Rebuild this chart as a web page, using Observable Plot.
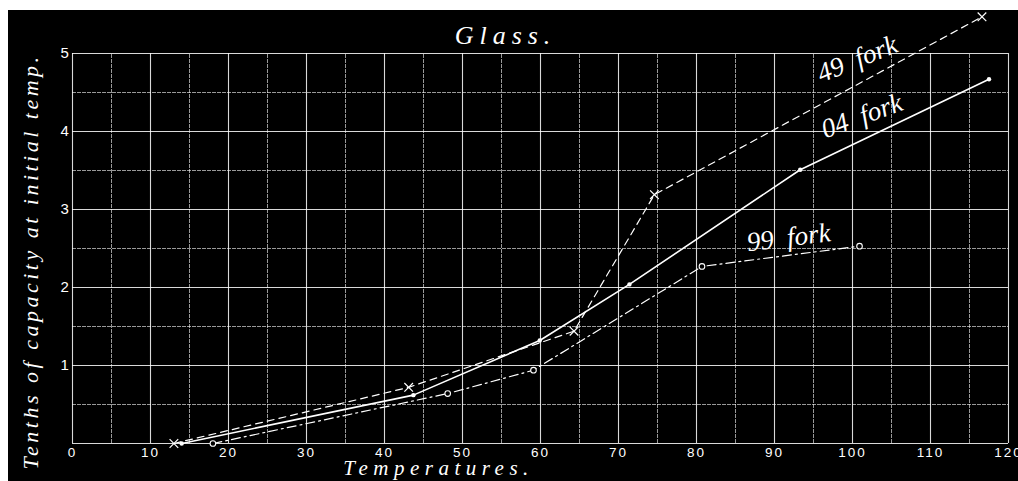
<!DOCTYPE html>
<html>
<head>
<meta charset="utf-8">
<script src="https://cdn.jsdelivr.net/npm/d3@7"></script>
<script src="https://cdn.jsdelivr.net/npm/@observablehq/plot@0.6"></script>
<style>
  html, body { margin: 0; padding: 0; background: #fff; }
  #chart { padding: 10px 0 0 8px; }
  #chart svg { display: block; background: #000; }
</style>
</head>
<body>
<div id="chart"></div>
<script>
// ---- data ----
const temps49 = [13, 43.1, 64.3, 74.6, 116.6];
const cap49   = [0, 0.72, 1.44, 3.19, 5.47];
const temps04 = [14, 43.7, 59.9, 71.4, 93.3, 117.5];
const cap04   = [0, 0.62, 1.32, 2.04, 3.51, 4.67];
const temps99 = [18, 48.1, 59.1, 80.7, 100.9];
const cap99   = [0, 0.64, 0.94, 2.27, 2.53];

const forkLabels = ["49  fork", "04  fork", "99  fork"];
const forkLabelX = [100.6, 101.2, 91.8];
const forkLabelY = [4.93, 4.2, 2.64];
const forkLabelAngle = [-22, -20, -7];

const xTickLabels = [0, 10, 20, 30, 40, 50, 60, 70, 80, 90, 100, 110, 120];
const xMinorGrid  = [5, 15, 25, 35, 45, 55, 65, 75, 85, 95, 105, 115];
const yTickLabels = [1, 2, 3, 4, 5];
const yMinorGrid  = [0.5, 1.5, 2.5, 3.5, 4.5];
const yMajorGrid  = [0, 1, 2, 3, 4, 5];

const title = "Glass.";
const xLabel = "Temperatures.";
const yLabel = "Tenths of capacity at initial temp.";

const toRows = (xs, ys) => xs.map((x, i) => ({x, y: ys[i]}));
const s49 = toRows(temps49, cap49);
const s04 = toRows(temps04, cap04);
const s99 = toRows(temps99, cap99);
const labels = forkLabels.map((t, i) => ({t, x: forkLabelX[i], y: forkLabelY[i], a: forkLabelAngle[i]}));

const serif = "Liberation Serif, DejaVu Serif, serif";
const sans = "Liberation Sans, DejaVu Sans, sans-serif";

const chart = Plot.plot({
  width: 1010,
  height: 471,
  marginLeft: 64,
  marginRight: 10,
  marginTop: 43,
  marginBottom: 38,
  x: {domain: [0, 120], axis: null},
  y: {domain: [0, 5], axis: null},
  style: {background: "#000", color: "#fff"},
  marks: [
    Plot.ruleX(xMinorGrid, {x: d => d, y1: 0, y2: 5, stroke: "#fff", strokeOpacity: 0.6, strokeWidth: 1, strokeDasharray: "4,1"}),
    Plot.ruleY(yMinorGrid, {y: d => d, x1: 0, x2: 120, stroke: "#fff", strokeOpacity: 0.6, strokeWidth: 1, strokeDasharray: "4,1"}),
    Plot.ruleX(xTickLabels, {x: d => d, y1: 0, y2: 5, stroke: "#fff", strokeOpacity: 0.85, strokeWidth: 1.1}),
    Plot.ruleY(yMajorGrid, {y: d => d, x1: 0, x2: 120, stroke: "#fff", strokeOpacity: 0.85, strokeWidth: 1.1}),
    // tick labels
    Plot.text(xTickLabels, {x: d => d, frameAnchor: "bottom", lineAnchor: "middle", dy: 9, text: d => String(d), fill: "#fff", fontSize: 13.5, fontFamily: sans, fontWeight: 300}),
    Plot.text(yTickLabels, {y: d => d, frameAnchor: "left", dx: -12, text: d => String(d), fill: "#fff", fontSize: 15, fontFamily: sans}),
    // series
    Plot.line(s49, {x: "x", y: "y", stroke: "#fff", strokeWidth: 1.2, strokeDasharray: "7,5"}),
    Plot.line(s04, {x: "x", y: "y", stroke: "#fff", strokeWidth: 1.6}),
    Plot.line(s99, {x: "x", y: "y", stroke: "#fff", strokeWidth: 1.2, strokeDasharray: "9,4,2,4"}),
    Plot.dot(s49, {x: "x", y: "y", symbol: "times", r: 4, stroke: "#fff", strokeWidth: 1.2}),
    Plot.dot(s04, {x: "x", y: "y", r: 2.2, fill: "#fff", stroke: "none"}),
    Plot.dot(s99, {x: "x", y: "y", r: 2.8, fill: "#000", stroke: "#fff", strokeWidth: 1.1}),
    // fork labels
    Plot.text(labels, {x: "x", y: "y", text: "t", rotate: "a", fill: "#fff", fontSize: 27, fontStyle: "italic", fontFamily: serif}),
    // titles
    Plot.text([title], {frameAnchor: "top", lineAnchor: "middle", dx: -35, dy: -18, text: d => d, fill: "#fff", fontSize: 26, fontStyle: "italic", fontFamily: serif}),
    Plot.text([xLabel], {frameAnchor: "bottom", lineAnchor: "middle", dx: -102, dy: 25, text: d => d, fill: "#fff", fontSize: 21, fontStyle: "italic", fontFamily: serif}),
    Plot.text([yLabel], {frameAnchor: "left", textAnchor: "middle", lineAnchor: "middle", dx: -42, dy: 13, rotate: -90, text: d => d, fill: "#fff", fontSize: 22, fontStyle: "italic", fontFamily: serif})
  ]
});

document.getElementById("chart").append(chart);

// letter spacing for engraved-style labels
d3.select(chart).selectAll("text").each(function() {
  const t = this.textContent;
  if (t === title) d3.select(this).style("letter-spacing", "6px");
  else if (t === xLabel) d3.select(this).style("letter-spacing", "5.5px");
  else if (t === yLabel) d3.select(this).style("letter-spacing", "3.5px");
  else if (/^\d+$/.test(t)) d3.select(this).style("letter-spacing", "2px");
});
</script>
</body>
</html>
